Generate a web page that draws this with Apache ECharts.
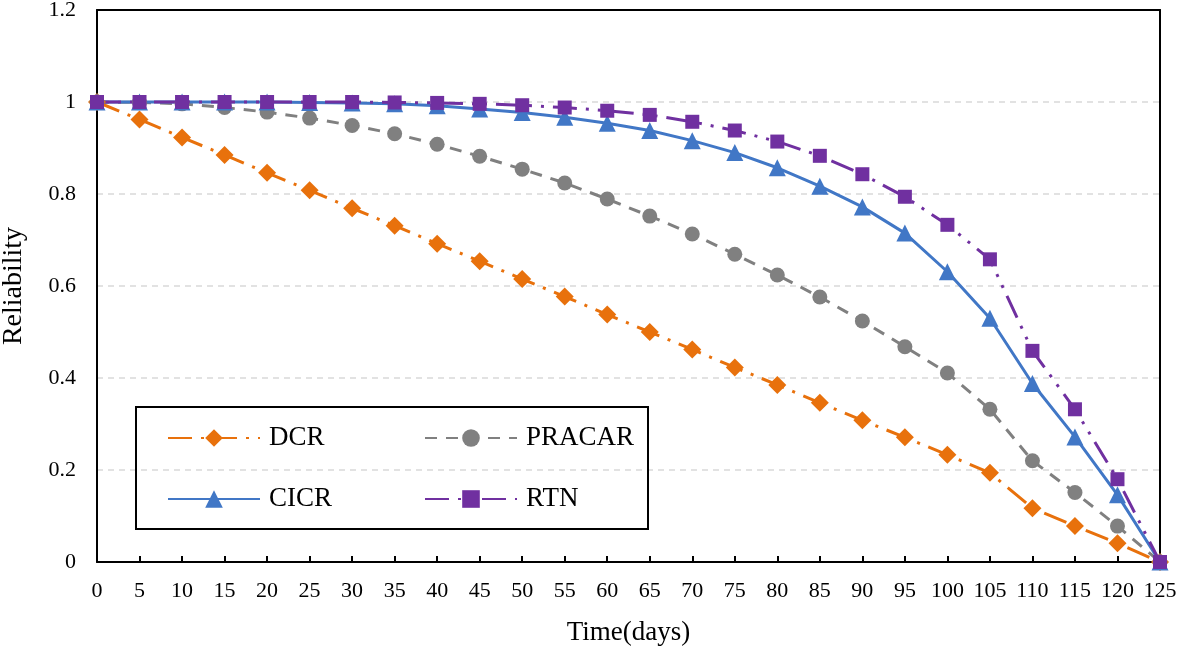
<!DOCTYPE html>
<html>
<head>
<meta charset="utf-8">
<script src="https://cdn.jsdelivr.net/npm/echarts@6/dist/echarts.min.js"></script>
<style>html,body{margin:0;padding:0;background:#fff}#c{width:1179px;height:646px}</style>
</head>
<body>
<div id="c"></div>
<script>
const days = [0,5,10,15,20,25,30,35,40,45,50,55,60,65,70,75,80,85,90,95,100,105,110,115,120,125];
const DCR = [1,0.962,0.923,0.885,0.846,0.808,0.769,0.731,0.692,0.654,0.615,0.577,0.538,0.5,0.462,0.423,0.385,0.346,0.308,0.271,0.233,0.194,0.117,0.078,0.041,0];
const PRACAR = [1,0.999,0.996,0.988,0.978,0.965,0.949,0.931,0.908,0.882,0.854,0.824,0.789,0.752,0.713,0.669,0.624,0.576,0.524,0.468,0.411,0.332,0.22,0.151,0.078,0];
const CICR = [1,1,1,1,1,0.999,0.998,0.996,0.992,0.985,0.977,0.967,0.954,0.938,0.916,0.89,0.857,0.817,0.772,0.715,0.631,0.53,0.388,0.272,0.146,0];
const RTN = [1,1,1,1,1,1,1,0.999,0.998,0.996,0.993,0.988,0.981,0.972,0.957,0.938,0.914,0.883,0.843,0.794,0.733,0.658,0.459,0.332,0.18,0];
const yTicks = [0,0.2,0.4,0.6,0.8,1,1.2];

const font = 'Liberation Serif';
const pair = a => days.map((d,i)=>[d,a[i]]);
const chart = echarts.init(document.getElementById('c'));
const series = [
  {name:'DCR', data:pair(DCR), color:'#E8710C', symbol:'diamond', symbolSize:18, dash:[24,9,3,9]},
  {name:'PRACAR', data:pair(PRACAR), color:'#808080', symbol:'circle', symbolSize:15, dash:[12,9]},
  {name:'CICR', data:pair(CICR), color:'#4177C6', symbol:'triangle', symbolSize:17, dash:'solid'},
  {name:'RTN', data:pair(RTN), color:'#7030A0', symbol:'rect', symbolSize:14, dash:[24,9,3,9,3,9]}
].map(s=>({
  type:'line', name:s.name, data:s.data, symbol:s.symbol, symbolSize:s.symbolSize,
  itemStyle:{color:s.color}, lineStyle:{color:s.color, width:3, type:s.dash},
  animation:false, z:2
}));
const legendCommon = {
  orient:'vertical', itemWidth:92, itemHeight:22, itemGap:33,
  textStyle:{fontFamily:font, fontSize:27, color:'#000', lineHeight:28, padding:[0,0,0,4]},
  top:424, padding:0, selectedMode:false
};
const frameAxis = {min:0, axisLabel:{show:false}, axisTick:{show:false}, splitLine:{show:false},
  axisLine:{show:true, onZero:false, lineStyle:{color:'#000', width:2}}};
chart.setOption({
  backgroundColor:'#fff',
  grid:{left:97, right:19, top:10, bottom:84, outerBoundsMode:'none', containLabel:false},
  xAxis:[{type:'value', min:0, max:125, interval:5,
    name:'Time(days)', nameLocation:'middle', nameGap:57,
    nameTextStyle:{fontFamily:font, fontSize:27, color:'#000'},
    axisLine:{show:true, lineStyle:{color:'#000', width:2}},
    axisTick:{show:true, inside:true, length:6, lineStyle:{color:'#000', width:2}},
    axisLabel:{fontFamily:font, fontSize:22, color:'#000', margin:18},
    splitLine:{show:false}
  }, Object.assign({type:'value', position:'top', max:125}, frameAxis)],
  yAxis:[{type:'value', min:0, max:1.2, interval:0.2,
    name:'Reliability', nameLocation:'middle', nameGap:69,
    nameTextStyle:{fontFamily:font, fontSize:28, color:'#000'},
    axisLine:{show:true, lineStyle:{color:'#000', width:2}},
    axisTick:{show:false},
    axisLabel:{fontFamily:font, fontSize:22, color:'#000', margin:21,
      formatter:v=>String(yTicks.find(t=>Math.abs(t-v)<1e-6) ?? v)},
    splitLine:{show:true, lineStyle:{color:'#D9D9D9', width:1.5, type:[6,5]}}
  }, Object.assign({type:'value', position:'right', max:1.2}, frameAxis)],
  legend:[
    Object.assign({left:167, data:['DCR','CICR']}, legendCommon),
    Object.assign({left:424, data:['PRACAR','RTN']}, legendCommon)
  ],
  graphic:[{type:'rect', shape:{x:136, y:407, width:512, height:122},
    style:{fill:'none', stroke:'#000', lineWidth:2}, z:100}],
  series:series
});
</script>
</body>
</html>
